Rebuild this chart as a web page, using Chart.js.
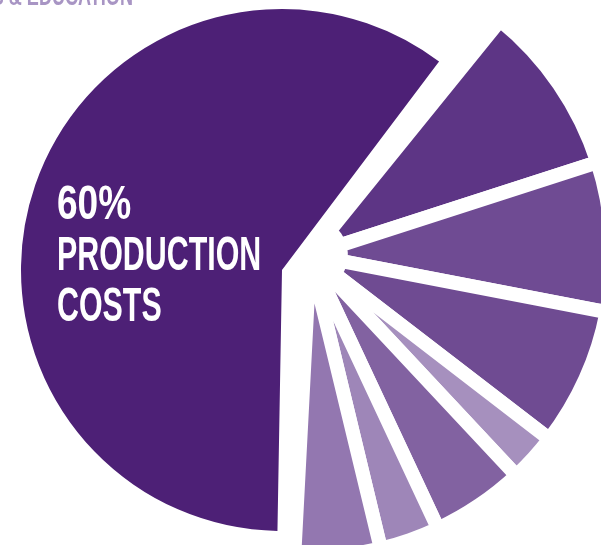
<!DOCTYPE html>
<html>
<head>
<meta charset="utf-8">
<script src="https://cdn.jsdelivr.net/npm/chart.js@4.4.1/dist/chart.umd.min.js"></script>
<style>
  html, body { margin: 0; padding: 0; background: #ffffff; }
  body { width: 601px; height: 545px; overflow: hidden; position: relative; }
  canvas { position: absolute; }
  #bigPie { left: 2px; top: -10px; z-index: 1; }
  #restPie { left: -10px; top: -65px; z-index: 2; }
  .label {
    position: absolute; z-index: 3; color: #ffffff;
    font-family: "Liberation Sans", Arial, sans-serif;
    font-weight: bold; white-space: nowrap;
  }
  #mainLabel {
    left: 57px; top: 177px; font-size: 49px; line-height: 51px;
    transform: scaleX(0.62); transform-origin: left top;
  }
  #mainLabel .pct { display: inline-block; transform: scaleX(1.22); transform-origin: left center; }
  #topLabel {
    right: 468px; top: -24px; font-size: 27px; line-height: 40px; color: #a895c4;
    transform: scaleX(0.67); transform-origin: right top;
  }
</style>
</head>
<body>
<div id="topLabel" class="label">PROGRAMS &amp; EDUCATION</div>
<canvas id="bigPie" width="560" height="560"></canvas>
<canvas id="restPie" width="640" height="640"></canvas>
<div id="mainLabel" class="label"><span class="pct">60%</span><br>PRODUCTION<br>COSTS</div>
<script>
// shares of the budget, clockwise starting from the big slice
const categories = ['Production costs', 'Share 2', 'Share 3', 'Share 4', 'Share 5', 'Share 6', 'Share 7', 'Share 8'];
const shares = [60, 9.2, 8.0, 7.4, 2.6, 5.0, 3.2, 4.6];

const sliceColors = ['#4d2076', '#5d3585', '#6f4b93', '#6f4b92', '#a690be', '#8262a1', '#9e86b8', '#9377b0'];
const clear = 'rgba(0,0,0,0)';

// the big slice sits on its own, smaller pie; the rest are pulled away from it
function makePie(id, showBig, radius, rotation, gap, hole) {
  const colors = sliceColors.map((c, i) => ((i === 0) === showBig ? c : clear));
  const borders = shares.map((v, i) => (i === 0 ? 0 : gap));
  return new Chart(document.getElementById(id), {
    type: 'pie',
    data: {
      labels: categories,
      datasets: [{
        data: shares,
        backgroundColor: colors,
        borderColor: '#ffffff',
        borderWidth: borders,
        hoverOffset: 0
      }]
    },
    options: {
      responsive: false,
      animation: false,
      events: [],
      rotation: rotation,
      radius: radius,
      cutout: hole,
      layout: { padding: 0 },
      plugins: { legend: { display: false }, tooltip: { enabled: false } }
    }
  });
}

makePie('bigPie', true, 261, 181, 0, 0);
makePie('restPie', false, 302, 183, 14, 32);
</script>
</body>
</html>
